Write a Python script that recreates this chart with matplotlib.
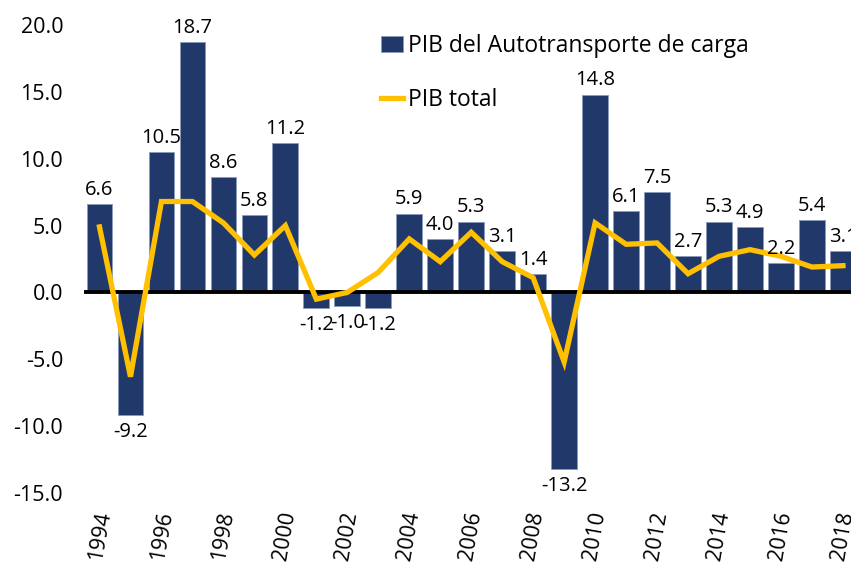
import matplotlib
matplotlib.use("Agg")
import matplotlib.pyplot as plt
import numpy as np

plt.rcParams['font.family'] = ['Open Sans', 'DejaVu Sans']

years = list(range(1994, 2019))
pib_carga = [6.6, -9.2, 10.5, 18.7, 8.6, 5.8, 11.2, -1.2, -1.0, -1.2, 5.9, 4.0, 5.3,
             3.1, 1.4, -13.2, 14.8, 6.1, 7.5, 2.7, 5.3, 4.9, 2.2, 5.4, 3.1]
pib_total = [4.9, -6.3, 6.8, 6.8, 5.2, 2.8, 5.0, -0.5, 0.0, 1.5, 4.0, 2.3, 4.5,
             2.3, 1.1, -5.2, 5.2, 3.6, 3.7, 1.4, 2.7, 3.2, 2.7, 1.9, 2.0]
yticks = [-15.0, -10.0, -5.0, 0.0, 5.0, 10.0, 15.0, 20.0]

navy = '#21386a'
gold = '#ffc000'

fig = plt.figure(figsize=(8.51, 5.65), dpi=100)
ax = fig.add_axes([84/851, 72/565, 1 - 84/851, 1 - 72/565])

x = np.arange(len(years))
bars = ax.bar(x, pib_carga, width=0.83, color=navy, edgecolor='#8a9bbb', linewidth=0.6,
              label='PIB del Autotransporte de carga', zorder=2)
ax.axhline(0, color='black', lw=2.8, zorder=3)
line, = ax.plot(x, pib_total, color=gold, lw=3.8, label='PIB total', zorder=4,
                solid_joinstyle='miter')

# etiquetas de datos
for xi, v in zip(x, pib_carga):
    if v >= 0:
        ax.annotate(f'{v:.1f}', (xi, v), xytext=(0, 3), textcoords='offset points',
                    ha='center', va='bottom', fontsize=14.5, zorder=5)
    else:
        ax.annotate(f'{v:.1f}', (xi, v), xytext=(0, -5), textcoords='offset points',
                    ha='center', va='top', fontsize=14.5, zorder=5)

ax.set_xlim(-0.5, 24.26)
ax.set_ylim(-15, 21.87)
ax.set_yticks(yticks)
ax.set_yticklabels([f'{t:.1f}' for t in yticks], fontsize=15.5)
ax.set_xticks(x[::2])
ax.set_xticklabels([str(y) for y in years[::2]], rotation=80, fontsize=15.5,
                   ha='center', va='top')
ax.tick_params(axis='both', length=0)
ax.tick_params(axis='y', pad=15)
ax.tick_params(axis='x', pad=12)
for s in ax.spines.values():
    s.set_visible(False)

ax.legend([bars, line], ['PIB del Autotransporte de carga', 'PIB total'],
          loc='upper left', bbox_to_anchor=(372/851, 1 - 25/565),
          bbox_transform=fig.transFigure, frameon=False, fontsize=16.5,
          handlelength=0.95, handleheight=0.65, handletextpad=0.2, labelspacing=1.3,
          borderaxespad=0)

fig.savefig('out.png', dpi=100)
